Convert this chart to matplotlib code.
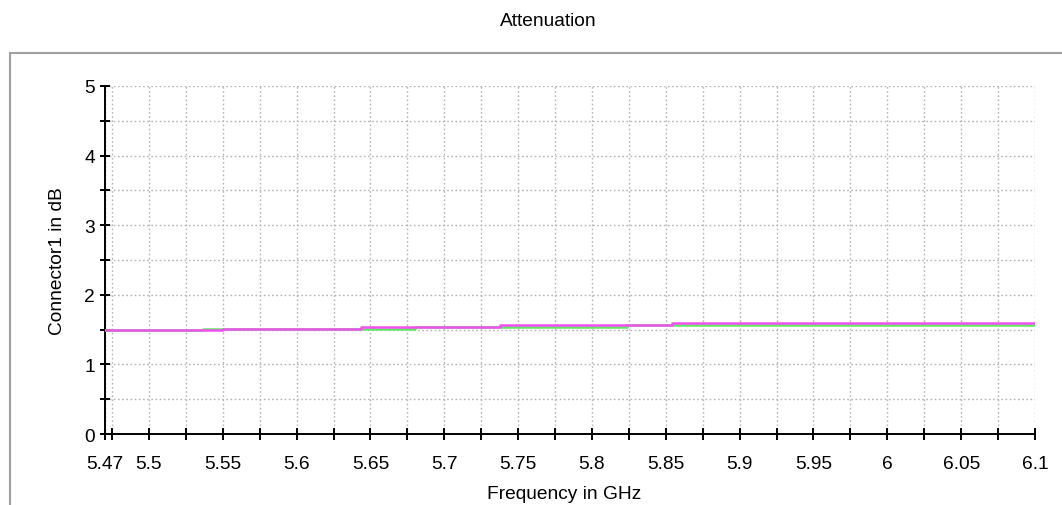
import matplotlib
matplotlib.use("Agg")
import matplotlib.pyplot as plt
from matplotlib.patches import Rectangle
import numpy as np

plt.rcParams['font.family'] = ['Liberation Sans', 'DejaVu Sans']

# ---- data ----
green_edges = [5.47, 5.5365, 5.68, 5.824, 6.1]
green_levels = [1.49, 1.51, 1.54, 1.57]
magenta_edges = [5.47, 5.55, 5.6437, 5.738, 5.854, 6.1]
magenta_levels = [1.49, 1.51, 1.54, 1.57, 1.595]

x_ticks = [5.47, 5.475, 5.5, 5.525, 5.55, 5.575, 5.6, 5.625, 5.65, 5.675, 5.7,
           5.725, 5.75, 5.775, 5.8, 5.825, 5.85, 5.875, 5.9, 5.925, 5.95,
           5.975, 6.0, 6.025, 6.05, 6.075, 6.1]
x_tick_labels = ["5.47", "", "5.5", "", "5.55", "", "5.6", "", "5.65", "", "5.7",
                 "", "5.75", "", "5.8", "", "5.85", "", "5.9", "", "5.95",
                 "", "6", "", "6.05", "", "6.1"]
y_ticks = [0, 0.5, 1, 1.5, 2, 2.5, 3, 3.5, 4, 4.5, 5]
y_tick_labels = ["0", "", "1", "", "2", "", "3", "", "4", "", "5"]

title = "Attenuation"
x_label = "Frequency in GHz"
y_label = "Connector1 in dB"

W, H = 1062, 506
fig = plt.figure(figsize=(W / 100, H / 100), dpi=100)

# outer frame
fig.add_artist(Rectangle((9.5 / W, -0.2), 2.0, (H - 54) / H + 0.2,
                         transform=fig.transFigure, fill=False,
                         edgecolor='#a0a0a0', linewidth=1.5, zorder=0))

ax = fig.add_axes([104.6 / W, 1 - 435 / H, (1035 - 104.6) / W, (435 - 87) / H])
ax.set_facecolor('none')

fs = 13.8
ax.step(green_edges, green_levels + [green_levels[-1]], where='post',
        color='#60e860', linewidth=1.8, zorder=3)
ax.step(magenta_edges, magenta_levels + [magenta_levels[-1]], where='post',
        color='#f050f0', linewidth=1.8, zorder=4)

ax.set_xlim(5.47, 6.1)
ax.set_ylim(0, 5)
ax.set_xticks(x_ticks)
ax.set_xticklabels(x_tick_labels, fontsize=fs)
ax.set_yticks(y_ticks)
ax.set_yticklabels(y_tick_labels, fontsize=fs)

ax.grid(True, color='#b4b4b4', linestyle=(0, (1.2, 1.8)), linewidth=1.0)
ax.set_axisbelow(True)

for s in ['top', 'right']:
    ax.spines[s].set_visible(False)
for s in ['left', 'bottom']:
    ax.spines[s].set_linewidth(1.4)
    ax.spines[s].set_color('black')

ax.tick_params(axis='x', direction='inout', length=8.5, width=1.4, pad=11)
ax.tick_params(axis='y', direction='inout', length=7.5, width=1.4, pad=3)

ax.set_ylabel(y_label, fontsize=fs, labelpad=13)
fig.text(564 / W, 1 - 495 / H, x_label, ha='center', va='center', fontsize=fs)
fig.text(548 / W, 1 - 22 / H, title, ha='center', va='center', fontsize=fs)

fig.savefig("out.png", dpi=100)
